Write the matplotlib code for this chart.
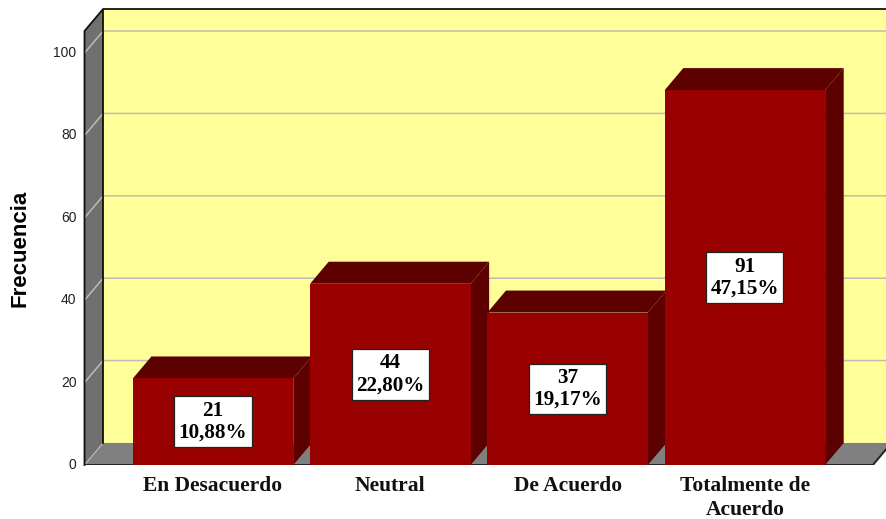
import matplotlib
matplotlib.use('Agg')
import matplotlib.pyplot as plt

# datos
categorias = ['En Desacuerdo', 'Neutral', 'De Acuerdo', 'Totalmente de\nAcuerdo']
frecuencias = [21, 44, 37, 91]
porcentajes = ['10,88%', '22,80%', '19,17%', '47,15%']
ticks_y = [0, 20, 40, 60, 80, 100]

# profundidad del efecto 3D, en unidades de los ejes
dx = 0.105
dy = 5.35
ancho = 0.905

rojo = '#990000'
rojo_osc = '#5c0000'
gris = '#808080'
gris_pared = '#707070'
amarillo = '#ffff99'
linea_grid = '#bdbdb0'

fig = plt.figure(figsize=(8.86, 5.19), dpi=100)
ax = fig.add_axes([84.5 / 886, (519 - 465) / 519, (886 - 84.5) / 886, (465 - 9) / 519])
xmin, xmax = -0.725, 3.796
ax.set_xlim(xmin, xmax)
ax.set_ylim(0, 110.7)
ax.axis('off')

# paredes y piso
derecha = 3.722
ax.fill([xmin + dx, xmax, xmax, xmin + dx], [dy, dy, 100 + 2 * dy, 100 + 2 * dy], color=amarillo, zorder=1, lw=0)
ax.fill([xmin, xmin + dx, xmin + dx, xmin], [0, dy, 100 + 2 * dy, 100 + dy], color=gris_pared, zorder=1, lw=0)
ax.fill([xmin, xmin + dx, derecha + dx, derecha], [0, dy, dy, 0], color=gris, zorder=1, lw=0)

# rejilla
for t in ticks_y[1:]:
    ax.plot([xmin, xmin + dx, xmax], [t, t + dy, t + dy], color=linea_grid, lw=1.1, zorder=2)
ax.plot([xmin, xmin + dx], [0, dy], color=linea_grid, lw=0.8, zorder=2)

# bordes
ax.plot([xmin, xmin, xmin + dx, xmax], [0, 100 + dy, 100 + 2 * dy, 100 + 2 * dy], color='#111111', lw=1.3, zorder=3, clip_on=False)
ax.plot([xmin + dx, xmin + dx], [dy, 100 + 2 * dy], color='#111111', lw=1.3, zorder=3)
ax.plot([xmin, derecha, derecha + dx], [0, 0, dy], color='#222222', lw=1.4, zorder=3)

# barras
pos = list(range(len(categorias)))
ax.bar(pos, frecuencias, width=ancho, color=rojo, zorder=6, lw=0)
for x, v in zip(pos, frecuencias):
    izq = x - ancho / 2
    der = x + ancho / 2
    ax.fill([izq, izq + dx, der + dx, der], [v, v + dy, v + dy, v], color=rojo_osc, zorder=5, lw=0)
    ax.fill([der, der + dx, der + dx, der], [0, dy, v + dy, v], color=rojo_osc, zorder=5, lw=0)

# etiquetas de valor
for x, v, p in zip(pos, frecuencias, porcentajes):
    ax.text(x, v / 2, f'{v}\n{p}', ha='center', va='center', family='Liberation Serif', fontweight='bold',
            fontsize=15.2, linespacing=1.14, zorder=7,
            bbox=dict(boxstyle='square,pad=0.2', fc='white', ec='#222222', lw=0.9))

# ejes de texto
for t in ticks_y:
    ax.text(xmin - 0.045, t, str(t), ha='right', va='center', family='Liberation Sans', fontsize=10, color='#222222', clip_on=False)
for x, c in zip(pos, categorias):
    ax.text(x, -2.6, c, ha='center', va='top', family='Liberation Serif', fontweight='bold', fontsize=15.5,
            linespacing=1.3, color='#111111', clip_on=False)
fig.text(20.5 / 886, 1 - 248.5 / 519, 'Frecuencia', rotation=90, ha='center', va='center', family='Liberation Sans',
         fontweight='bold', fontsize=16, color='black')

fig.savefig('out.png', dpi=100)
